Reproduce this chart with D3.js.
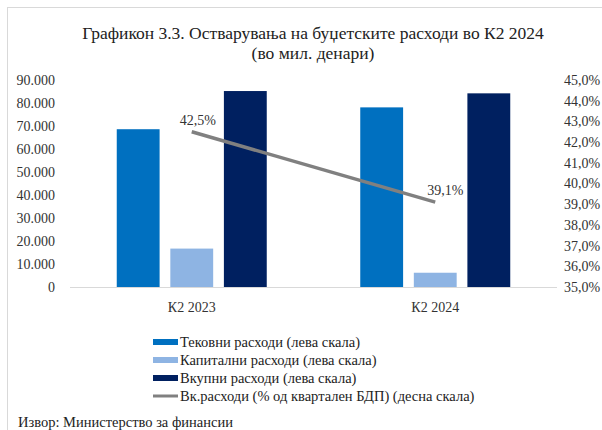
<!DOCTYPE html>
<html>
<head>
<meta charset="utf-8">
<script src="https://cdn.jsdelivr.net/npm/d3@7"></script>
<style>
  body { margin: 0; background: #fff; }
  svg { display: block; font-family: "Liberation Serif", serif; }
</style>
</head>
<body>
<main></main>
<script>
// Data
const categories = ["К2 2023", "К2 2024"];
const seriesNames = ["Тековни расходи (лева скала)", "Капитални расходи (лева скала)", "Вкупни расходи (лева скала)"];
const tekovni = [68600, 78100];
const kapitalni = [16700, 6200];
const vkupni = [85200, 84200];
const gdpShare = [42.5, 39.1];
const lineName = "Вк.расходи (% од квартален БДП) (десна скала)";
const leftTicks = [0, 10000, 20000, 30000, 40000, 50000, 60000, 70000, 80000, 90000];
const rightTicks = [35, 36, 37, 38, 39, 40, 41, 42, 43, 44, 45];

// Parameters
const w = 602;
const h = 430;
const colors = ["#0070C0", "#8EB4E3", "#002060"];
const lineColor = "#808080";

const loc = d3.formatLocale({decimal: ",", thousands: ".", grouping: [3], currency: ["", ""]});
const fmtLeft = loc.format(",");
const fmtRight = d => loc.format(".1f")(d) + "%";

const svg = d3.select("main")
  .append("svg")
  .attr("width", w)
  .attr("height", h);

// frame
svg.append("rect")
  .attr("x", 7.5).attr("y", 7.5)
  .attr("width", w + 10).attr("height", h + 10)
  .attr("fill", "none").attr("stroke", "#d9d9d9");

// Title
svg.append("text")
  .attr("x", 313).attr("y", 39)
  .attr("text-anchor", "middle")
  .attr("font-size", 17.5).attr("fill", "#222")
  .text("Графикон 3.3. Остварувања на буџетските расходи во К2 2024");
svg.append("text")
  .attr("x", 313).attr("y", 59)
  .attr("text-anchor", "middle")
  .attr("font-size", 17.5).attr("fill", "#222")
  .text("(во мил. денари)");

// Scales
const x0 = d3.scaleBand().domain(categories).range([70, 557]);
const x1 = d3.scaleBand().domain(d3.range(3)).range([0, 150]).paddingInner(0.2);
const yL = d3.scaleLinear().domain([0, 90000]).range([287, 80]);
const yR = d3.scaleLinear().domain([35, 45]).range([287, 80]);
const groupOffset = (x0.bandwidth() - 150) / 2;

// Left ticks
svg.append("g")
  .selectAll("text")
  .data(leftTicks)
  .enter()
  .append("text")
  .attr("x", 55)
  .attr("y", d => yL(d))
  .attr("dy", "0.35em")
  .attr("text-anchor", "end")
  .attr("font-size", 14).attr("fill", "#333")
  .text(d => fmtLeft(d));

// Right ticks
svg.append("g")
  .selectAll("text")
  .data(rightTicks)
  .enter()
  .append("text")
  .attr("x", 564)
  .attr("y", d => yR(d))
  .attr("dy", "0.35em")
  .attr("font-size", 14).attr("fill", "#333")
  .text(d => fmtRight(d));

// Bars
const seriesValues = [tekovni, kapitalni, vkupni];
const barData = [];
categories.forEach((c, i) => {
  seriesValues.forEach((s, j) => barData.push({cat: c, k: j, v: s[i]}));
});

svg.append("g")
  .selectAll("rect")
  .data(barData)
  .enter()
  .append("rect")
  .attr("x", d => x0(d.cat) + groupOffset + x1(d.k))
  .attr("y", d => yL(d.v))
  .attr("width", x1.bandwidth())
  .attr("height", d => yL(0) - yL(d.v))
  .attr("fill", d => colors[d.k]);

// baseline
svg.append("line")
  .attr("x1", 70).attr("x2", 557)
  .attr("y1", yL(0) + 0.5).attr("y2", yL(0) + 0.5)
  .attr("stroke", "#d9d9d9");

// category labels
svg.append("g")
  .selectAll("text")
  .data(categories)
  .enter()
  .append("text")
  .attr("x", d => x0(d) + x0.bandwidth() / 2)
  .attr("y", 312)
  .attr("text-anchor", "middle")
  .attr("font-size", 14).attr("fill", "#333")
  .text(d => d);

// Line
const lineGen = d3.line()
  .x((d, i) => x0(categories[i]) + x0.bandwidth() / 2)
  .y(d => yR(d));

svg.append("path")
  .datum(gdpShare)
  .attr("d", lineGen)
  .attr("fill", "none")
  .attr("stroke", lineColor)
  .attr("stroke-width", 3.5);

svg.append("g")
  .selectAll("text")
  .data(gdpShare)
  .enter()
  .append("text")
  .attr("x", (d, i) => x0(categories[i]) + x0.bandwidth() / 2 + 6 + i * 4)
  .attr("y", d => yR(d) - 7)
  .attr("text-anchor", "middle")
  .attr("font-size", 14).attr("fill", "#333")
  .text(d => loc.format(".1f")(d) + "%");

// Legend
const legendItems = seriesNames.map((n, i) => ({name: n, color: colors[i], type: "bar"}))
  .concat([{name: lineName, color: lineColor, type: "line"}]);

const legend = svg.append("g")
  .attr("transform", "translate(153, 342)");

const items = legend.selectAll("g")
  .data(legendItems)
  .enter()
  .append("g")
  .attr("transform", (d, i) => "translate(0," + i * 18 + ")");

items.filter(d => d.type === "bar")
  .append("rect")
  .attr("x", 0).attr("y", -3)
  .attr("width", 25).attr("height", 6)
  .attr("fill", d => d.color);

items.filter(d => d.type === "line")
  .append("line")
  .attr("x1", 0).attr("x2", 25)
  .attr("y1", 0).attr("y2", 0)
  .attr("stroke", d => d.color)
  .attr("stroke-width", 3);

items.append("text")
  .attr("x", 27)
  .attr("y", 0)
  .attr("dy", "0.35em")
  .attr("font-size", 14.5).attr("fill", "#222")
  .text(d => d.name);

// Source
svg.append("text")
  .attr("x", 18).attr("y", 427)
  .attr("font-size", 14.5).attr("fill", "#222")
  .text("Извор: Министерство за финансии");
</script>
</body>
</html>
